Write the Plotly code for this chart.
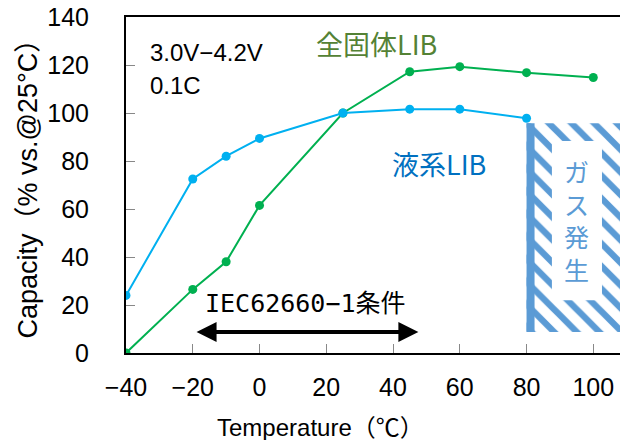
import plotly.graph_objects as go

# ---- data ----
temps_solid = [-40, -20, -10, 0, 25, 45, 60, 80, 100]
cap_solid = [0, 26.5, 38, 61.5, 100, 117.2, 119.3, 116.8, 114.8]

temps_liquid = [-40, -20, -10, 0, 25, 45, 60, 80]
cap_liquid = [24, 72.5, 82, 89.4, 100, 101.6, 101.6, 97.8]

x_ticks = [-40, -20, 0, 20, 40, 60, 80, 100]
y_ticks = [0, 20, 40, 60, 80, 100, 120, 140]

gas_region_x = [80, 108]        # temperature span of the gas-generation region
gas_region_y = [8.8, 95.7]      # capacity span of the gas-generation region
iec_range = [-19.3, 47.6]       # IEC62660-1 condition span

GREEN = "#00B050"
BLUE = "#00B0F0"
HATCH = "#5B9BD5"
FONT = "Liberation Sans, Arial, Noto Sans CJK JP, sans-serif"
CJK = "Noto Sans CJK JP, Liberation Sans, sans-serif"

fig = go.Figure()

# hatched gas region
gx0, gx1 = gas_region_x
gy0, gy1 = gas_region_y
fig.add_trace(go.Scatter(
    x=[gx0, gx1, gx1, gx0, gx0], y=[gy0, gy0, gy1, gy1, gy0],
    fill="toself", mode="none", hoverinfo="skip",
    fillcolor="white",
    fillpattern=dict(shape="\\", fgcolor=HATCH, bgcolor="white", size=16,
                     solidity=0.4, fgopacity=1, fillmode="replace"),
))

fig.add_trace(go.Scatter(
    x=temps_solid, y=cap_solid, mode="lines+markers",
    line=dict(color=GREEN, width=2), marker=dict(color=GREEN, size=9),
))
fig.add_trace(go.Scatter(
    x=temps_liquid, y=cap_liquid, mode="lines+markers",
    line=dict(color=BLUE, width=2), marker=dict(color=BLUE, size=9),
))

# left solid bar of gas region and inner white box
fig.add_shape(type="rect", x0=gx0, x1=gx0 + 2.4, y0=gy0, y1=gy1,
              fillcolor=HATCH, line_width=0, layer="above")
fig.add_shape(type="rect", x0=87.6, x1=102.6, y0=22, y1=88.3,
              fillcolor="white", line_width=0, layer="above")

fig.add_annotation(x=94.9, y=55.5, text="ガ<br>ス<br>発<br>生", showarrow=False,
                   font=dict(family=CJK, size=25, color=HATCH))

fig.add_annotation(x=-33.4, y=125.3, text="3.0V\u22124.2V", showarrow=False,
                   xanchor="left", font=dict(family=FONT, size=24, color="black"))
fig.add_annotation(x=-33.4, y=111.3, text="0.1C", showarrow=False,
                   xanchor="left", font=dict(family=FONT, size=24, color="black"))

fig.add_annotation(x=34.9, y=129, text="全固体LIB", showarrow=False,
                   font=dict(family=CJK, size=27, color="#548235"))
fig.add_annotation(x=53.8, y=79, text="液系LIB", showarrow=False,
                   font=dict(family=CJK, size=27, color="#0070C0"))

fig.add_annotation(x=13.9, y=20.7, text="IEC62660\u22121条件", showarrow=False,
                   font=dict(family="DejaVu Sans Mono, Noto Sans CJK JP, monospace", size=25, color="black"))

fig.add_annotation(x=iec_range[1], y=8.8, ax=iec_range[0], ay=8.8,
                   axref="x", ayref="y", xref="x", yref="y",
                   text="", showarrow=True, arrowside="end+start",
                   arrowhead=2, arrowsize=1, arrowwidth=4, arrowcolor="black")

# axis titles
fig.add_annotation(x=18.3, y=-0.221, xref="x", yref="paper",
                   xanchor="center", yanchor="middle",
                   text="Temperature（℃）", showarrow=False,
                   font=dict(family=FONT, size=24, color="black"))
fig.add_annotation(x=-0.198, y=0.508, xref="paper", yref="paper",
                   xanchor="center", yanchor="middle",
                   text="Capacity（% vs.@25°C）", showarrow=False, textangle=-90,
                   font=dict(family=FONT, size=27, color="black"))

fig.update_xaxes(range=[-40, 108], tickvals=x_ticks, ticks="inside", ticklen=9,
                 tickcolor="#888888", tickwidth=1, showgrid=False, zeroline=False,
                 showline=True, linecolor="black", linewidth=2, mirror=True,
                 ticklabelstandoff=11, automargin=False,
                 tickfont=dict(family=FONT, size=25, color="black"))
fig.update_yaxes(range=[0, 140], tickvals=y_ticks, ticks="inside", ticklen=9,
                 tickcolor="#888888", tickwidth=1, showgrid=False, zeroline=False,
                 showline=True, linecolor="black", linewidth=2,
                 ticklabelstandoff=30, automargin=False,
                 tickfont=dict(family=FONT, size=25, color="black"))

fig.update_layout(width=620, height=440, showlegend=False,
                  plot_bgcolor="white", paper_bgcolor="white",
                  margin=dict(l=126, r=0, t=17, b=87, autoexpand=False))

fig.write_html("out.html", config={"displayModeBar": False},
               post_script="document.body.style.margin='0';")
